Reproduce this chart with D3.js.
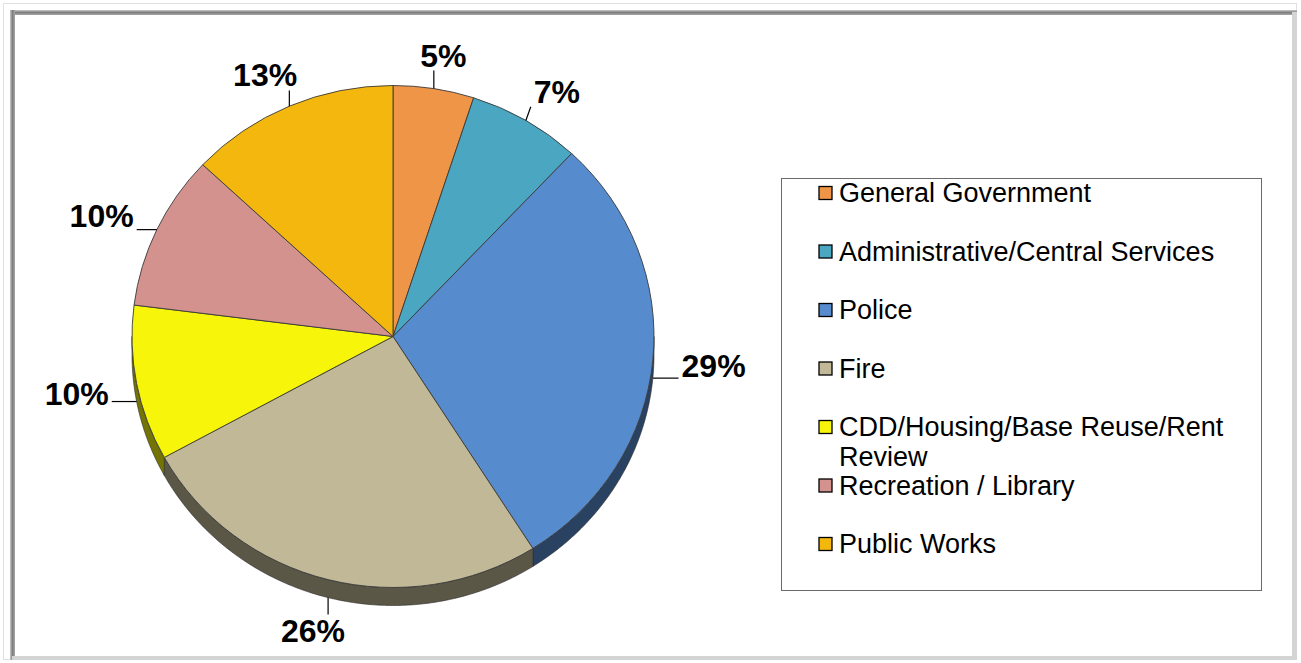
<!DOCTYPE html>
<html>
<head>
<meta charset="utf-8">
<script src="https://cdn.jsdelivr.net/npm/d3@7"></script>
<style>
  html, body { margin: 0; padding: 0; background: #fff; }
  svg { display: block; }
  text { font-family: "Liberation Sans", Arial, Helvetica, sans-serif; }
</style>
</head>
<body>
<svg id="chart" width="1301" height="663"></svg>
<script>
// ---- data ----
const categories = [
  "General Government",
  "Administrative/Central Services",
  "Police",
  "Fire",
  "CDD/Housing/Base Reuse/Rent Review",
  "Recreation / Library",
  "Public Works"
];
const values = [5, 7, 29, 26, 10, 10, 13];
const palette = ["#EE9548", "#4BA6C1", "#568BCD", "#C0B896", "#F6F50A", "#D4928F", "#F4B70E"];

// ---- layout ----
const W = 1301, H = 663;
const cx = 393, cy = 336.5, rx = 261, ry = 251, depth = 18;
const labelRx = 322, labelRy = 285;
const labelFont = 32;

const svg = d3.select("#chart");

// frame
const defs = svg.append("defs");
const gv = defs.append("linearGradient").attr("id", "bandV").attr("x1", 0).attr("y1", 0).attr("x2", 0).attr("y2", 1);
gv.append("stop").attr("offset", "0%").attr("stop-color", "#c8c8c8");
gv.append("stop").attr("offset", "50%").attr("stop-color", "#7e7e7e");
gv.append("stop").attr("offset", "100%").attr("stop-color", "#a8a8a8");
const gh = defs.append("linearGradient").attr("id", "bandH").attr("x1", 0).attr("y1", 0).attr("x2", 1).attr("y2", 0);
gh.append("stop").attr("offset", "0%").attr("stop-color", "#c8c8c8");
gh.append("stop").attr("offset", "50%").attr("stop-color", "#7e7e7e");
gh.append("stop").attr("offset", "100%").attr("stop-color", "#a8a8a8");

svg.append("rect").attr("x", 3.5).attr("y", 3.5).attr("width", 1293).attr("height", 656)
  .attr("fill", "none").attr("stroke", "#e0e0e0");
svg.append("rect").attr("x", 10).attr("y", 10).attr("width", 1287).attr("height", 5).attr("fill", "url(#bandV)");
svg.append("rect").attr("x", 10).attr("y", 10).attr("width", 5).attr("height", 650).attr("fill", "url(#bandH)");
svg.append("rect").attr("x", 1292).attr("y", 12).attr("width", 5).attr("height", 648).attr("fill", "#d4d4d4");
svg.append("rect").attr("x", 12).attr("y", 656).attr("width", 1285).attr("height", 4).attr("fill", "#d4d4d4");

// pie
const arcs = d3.pie().sort(null).value(d => d)(values);
const color = d3.scaleOrdinal().domain(categories).range(palette);
const pt = (a, dy = 0) => [cx + rx * Math.sin(a), cy - ry * Math.cos(a) + dy];

// side walls (front half only)
const sideG = svg.append("g");
arcs.forEach((d, i) => {
  const s = Math.max(d.startAngle, Math.PI / 2);
  const e = Math.min(d.endAngle, 3 * Math.PI / 2);
  if (s >= e) return;
  const n = Math.max(2, Math.ceil((e - s) / 0.01));
  const pts = [];
  for (let k = 0; k <= n; k++) pts.push(pt(s + (e - s) * k / n));
  for (let k = n; k >= 0; k--) pts.push(pt(s + (e - s) * k / n, depth));
  sideG.append("path")
    .attr("d", d3.line()(pts) + "Z")
    .attr("fill", d3.color(color(categories[i])).darker(2.1))
    .attr("stroke", "#2a2a2a")
    .attr("stroke-width", 0.6);
});

// top faces
const topG = svg.append("g").attr("transform", `translate(${cx},${cy}) scale(1,${ry / rx})`);
const arcGen = d3.arc().innerRadius(0).outerRadius(rx);
topG.selectAll("path").data(arcs).join("path")
  .attr("d", arcGen)
  .attr("fill", (d, i) => color(categories[i]))
  .attr("stroke", "#3a3a3a")
  .attr("stroke-width", 0.9)
  .attr("vector-effect", "non-scaling-stroke");

// labels
const total = d3.sum(values);
const fmt = d3.format(".0%");
const labG = svg.append("g");
arcs.forEach((d, i) => {
  const mid = (d.startAngle + d.endAngle) / 2;
  const front = Math.cos(mid) < 0;
  const lx = cx + labelRx * Math.sin(mid);
  const ly = cy - labelRy * Math.cos(mid) + depth * Math.max(0, -Math.cos(mid));
  const t = labG.append("text")
    .attr("x", lx).attr("y", ly + 0.36 * labelFont)
    .attr("text-anchor", "middle")
    .attr("font-size", labelFont).attr("font-weight", "bold")
    .attr("fill", "#000")
    .text(fmt(d.value / total));
  const w = t.node().getComputedTextLength();
  const bx0 = lx - w / 2 - 3, bx1 = lx + w / 2 + 3;
  const by0 = ly - 0.36 * labelFont - 4, by1 = ly + 0.36 * labelFont + 4;
  const P = pt(mid, front ? depth : 0);
  const Q = [Math.max(bx0, Math.min(bx1, P[0])), Math.max(by0, Math.min(by1, P[1]))];
  labG.append("line")
    .attr("x1", P[0]).attr("y1", P[1]).attr("x2", Q[0]).attr("y2", Q[1])
    .attr("stroke", "#000").attr("stroke-width", 1.2);
});

// legend
const legX = 781.5, legY = 178.5, legW = 480, legH = 412;
const legFont = 27, rowGap = 58.5, firstBase = 202, textX = 839, maxTextW = 418;
svg.append("rect").attr("x", legX).attr("y", legY).attr("width", legW).attr("height", legH)
  .attr("fill", "#fff").attr("stroke", "#6a6a6a").attr("stroke-width", 1);
const legG = svg.append("g");
categories.forEach((c, i) => {
  const base = firstBase + i * rowGap;
  legG.append("rect")
    .attr("x", 819).attr("y", base - 15.5).attr("width", 13).attr("height", 13)
    .attr("fill", color(c)).attr("stroke", "#000").attr("stroke-width", 1.3);
  const t = legG.append("text")
    .attr("x", textX).attr("y", base)
    .attr("font-size", legFont).attr("fill", "#000");
  // word wrap
  const words = c.split(" ");
  let line = [];
  let ts = t.append("tspan").attr("x", textX).attr("y", base);
  let lineNo = 0;
  words.forEach(wd => {
    line.push(wd);
    ts.text(line.join(" "));
    if (ts.node().getComputedTextLength() > maxTextW && line.length > 1) {
      line.pop();
      ts.text(line.join(" "));
      line = [wd];
      lineNo++;
      ts = t.append("tspan").attr("x", textX).attr("y", base + lineNo * 30).text(wd);
    }
  });
});
</script>
</body>
</html>
